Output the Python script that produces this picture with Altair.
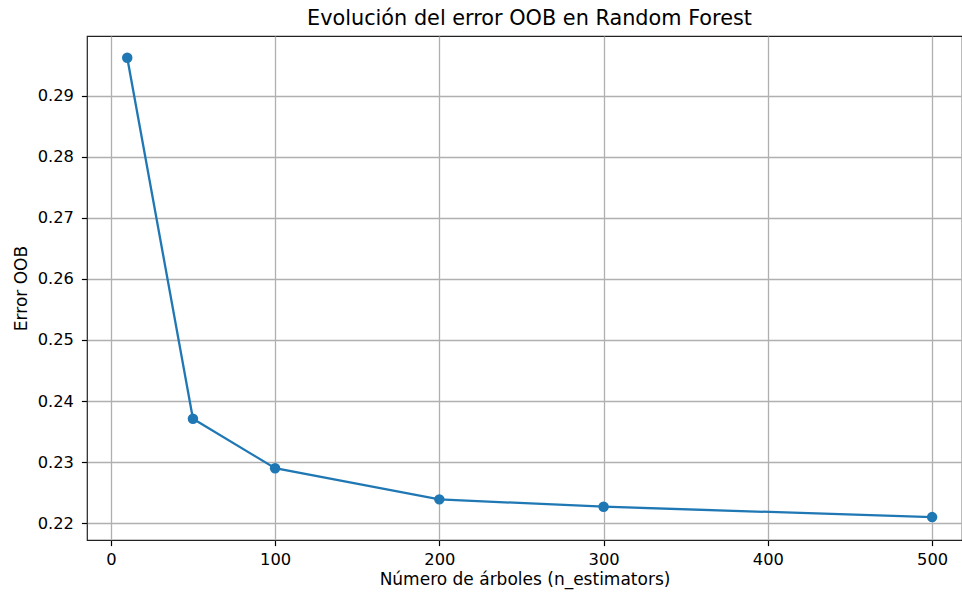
import altair as alt
import pandas as pd

# Número de árboles probados y el error OOB obtenido con cada uno
n_estimators = [10, 50, 100, 200, 300, 500]
oob_error = [0.2962, 0.2371, 0.2290, 0.2239, 0.2227, 0.2210]

x_ticks = [0, 100, 200, 300, 400, 500]
y_ticks = [0.22, 0.23, 0.24, 0.25, 0.26, 0.27, 0.28, 0.29]

df = pd.DataFrame({"n": n_estimators, "err": oob_error})

FONT = "DejaVu Sans"
BLUE = "#1f77b4"

x_enc = alt.X(
    "n:Q",
    scale=alt.Scale(domain=[-14.5, 518.2], nice=False, zero=False),
    axis=alt.Axis(
        values=x_ticks,
        format="d",
        title="Número de árboles (n_estimators)",
        labelPadding=6,
        titlePadding=4,
    ),
)
y_enc = alt.Y(
    "err:Q",
    scale=alt.Scale(domain=[0.21725, 0.29975], nice=False, zero=False),
    axis=alt.Axis(
        values=y_ticks,
        format=".2f",
        title="Error OOB",
        labelPadding=8,
        titlePadding=7,
    ),
)

base = alt.Chart(df).encode(x=x_enc, y=y_enc)

line = base.mark_line(color=BLUE, strokeWidth=2.3)
points = base.mark_circle(color=BLUE, size=110, opacity=1)

chart = (
    alt.layer(line, points)
    .properties(
        width=875,
        height=504,
        padding={"left": 87, "top": 36, "right": 0, "bottom": 56},
        autosize=alt.AutoSizeParams(type="none"),
        title=alt.TitleParams(
            "Evolución del error OOB en Random Forest",
            font=FONT,
            fontSize=20.8,
            fontWeight="normal",
            color="black",
            anchor="middle",
            dx=5,
            offset=6,
        ),
    )
    .configure_view(stroke="#222222", strokeWidth=1.2)
    .configure_axis(
        domain=False,
        grid=True,
        gridColor="#b0b0b0",
        gridWidth=1.3,
        labelFont=FONT,
        labelFontSize=16.3,
        labelColor="black",
        tickColor="black",
        tickSize=5.6,
        tickWidth=1.2,
        titleFont=FONT,
        titleFontSize=17,
        titleFontWeight="normal",
        titleColor="black",
    )
)

chart.save("out.html", embed_options={"renderer": "svg", "actions": False})
